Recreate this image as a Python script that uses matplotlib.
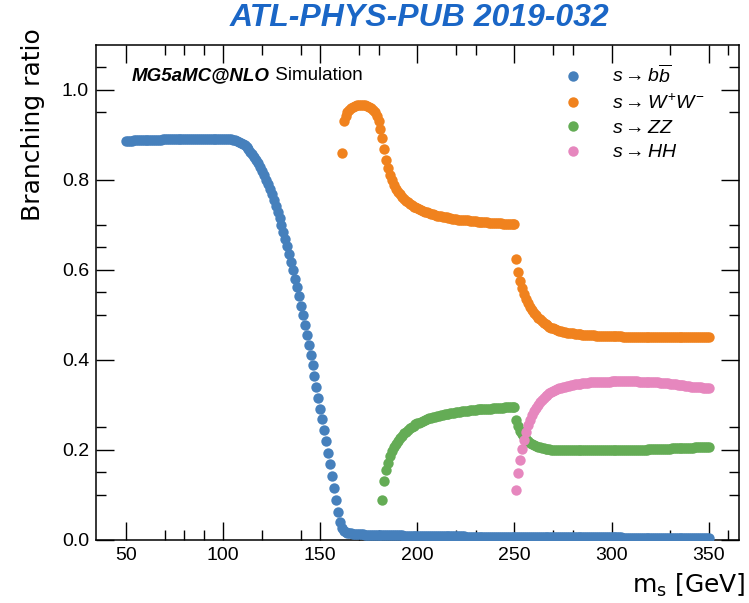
import numpy as np
import matplotlib
matplotlib.use("Agg")
import matplotlib.pyplot as plt
from matplotlib.lines import Line2D
from matplotlib.ticker import FixedLocator, FormatStrFormatter

plt.rcParams["font.family"] = ["Liberation Sans", "DejaVu Sans"]
plt.rcParams["mathtext.fontset"] = "custom"
plt.rcParams["mathtext.it"] = "Liberation Sans:italic"
plt.rcParams["mathtext.rm"] = "Liberation Sans"

# Branching ratios of the scalar s, sampled every 1 GeV in m_s.
bb_start = 50
br_bb = [
    0.887, 0.887, 0.887, 0.887, 0.888, 0.888, 0.888, 0.888, 0.888, 0.888,
    0.888, 0.888, 0.889, 0.889, 0.889, 0.889, 0.889, 0.889, 0.889, 0.890,
    0.890, 0.890, 0.890, 0.890, 0.890, 0.891, 0.891, 0.891, 0.891, 0.891,
    0.891, 0.891, 0.891, 0.892, 0.892, 0.892, 0.892, 0.892, 0.892, 0.892,
    0.892, 0.892, 0.892, 0.892, 0.892, 0.892, 0.892, 0.892, 0.892, 0.892,
    0.892, 0.892, 0.891, 0.891, 0.890, 0.889, 0.888, 0.886, 0.884, 0.882,
    0.880, 0.877, 0.873, 0.868, 0.863, 0.857, 0.851, 0.844, 0.837, 0.829,
    0.820, 0.811, 0.801, 0.791, 0.780, 0.768, 0.756, 0.743, 0.729, 0.715,
    0.700, 0.685, 0.669, 0.653, 0.636, 0.618, 0.600, 0.581, 0.562, 0.542,
    0.521, 0.500, 0.478, 0.456, 0.434, 0.411, 0.388, 0.364, 0.340, 0.316,
    0.292, 0.268, 0.244, 0.219, 0.194, 0.169, 0.143, 0.116, 0.088, 0.062,
    0.040, 0.026, 0.020, 0.017, 0.016, 0.015, 0.015, 0.014, 0.014, 0.013,
    0.013, 0.013, 0.013, 0.012, 0.012, 0.012, 0.012, 0.012, 0.011, 0.011,
    0.011, 0.011, 0.011, 0.011, 0.011, 0.010, 0.010, 0.010, 0.010, 0.010,
    0.010, 0.010, 0.010, 0.009, 0.009, 0.009, 0.009, 0.009, 0.009, 0.009,
    0.009, 0.009, 0.009, 0.009, 0.009, 0.008, 0.008, 0.008, 0.008, 0.008,
    0.008, 0.008, 0.008, 0.008, 0.008, 0.008, 0.008, 0.008, 0.008, 0.008,
    0.008, 0.008, 0.008, 0.008, 0.008, 0.007, 0.007, 0.007, 0.007, 0.007,
    0.007, 0.007, 0.007, 0.007, 0.007, 0.007, 0.007, 0.007, 0.007, 0.007,
    0.007, 0.007, 0.007, 0.007, 0.007, 0.007, 0.007, 0.007, 0.007, 0.007,
    0.007, 0.007, 0.007, 0.007, 0.007, 0.007, 0.007, 0.007, 0.007, 0.007,
    0.007, 0.007, 0.007, 0.007, 0.007, 0.006, 0.006, 0.006, 0.006, 0.006,
    0.006, 0.006, 0.006, 0.006, 0.006, 0.006, 0.006, 0.006, 0.006, 0.006,
    0.006, 0.006, 0.006, 0.006, 0.006, 0.006, 0.006, 0.006, 0.006, 0.006,
    0.006, 0.006, 0.006, 0.006, 0.006, 0.006, 0.006, 0.006, 0.006, 0.006,
    0.006, 0.006, 0.006, 0.006, 0.006, 0.006, 0.005, 0.005, 0.005, 0.005,
    0.005, 0.005, 0.005, 0.005, 0.005, 0.005, 0.005, 0.005, 0.005, 0.005,
    0.005, 0.005, 0.005, 0.005, 0.005, 0.005, 0.005, 0.005, 0.005, 0.005,
    0.005, 0.005, 0.005, 0.005, 0.005, 0.005, 0.005, 0.005, 0.005, 0.005,
    0.005, 0.005, 0.005, 0.005, 0.005, 0.005, 0.005, 0.005, 0.005, 0.005,
    0.005,
]

ww_start = 161
br_ww = [
    0.860, 0.930, 0.942, 0.950, 0.956, 0.960, 0.963, 0.965, 0.966, 0.967,
    0.967, 0.967, 0.966, 0.965, 0.963, 0.960, 0.956, 0.950, 0.942, 0.930,
    0.914, 0.893, 0.868, 0.845, 0.826, 0.811, 0.799, 0.789, 0.781, 0.774,
    0.768, 0.763, 0.758, 0.754, 0.750, 0.747, 0.744, 0.741, 0.739, 0.737,
    0.735, 0.733, 0.731, 0.729, 0.728, 0.726, 0.725, 0.724, 0.722, 0.721,
    0.720, 0.719, 0.718, 0.717, 0.717, 0.716, 0.715, 0.714, 0.714, 0.713,
    0.712, 0.712, 0.711, 0.711, 0.710, 0.710, 0.709, 0.709, 0.708, 0.708,
    0.707, 0.707, 0.707, 0.706, 0.706, 0.706, 0.705, 0.705, 0.705, 0.704,
    0.704, 0.704, 0.704, 0.703, 0.703, 0.703, 0.703, 0.702, 0.702, 0.702,
    0.624, 0.596, 0.576, 0.559, 0.546, 0.535, 0.526, 0.518, 0.511, 0.505,
    0.499, 0.494, 0.490, 0.486, 0.483, 0.480, 0.477, 0.474, 0.472, 0.470,
    0.468, 0.467, 0.465, 0.464, 0.463, 0.462, 0.461, 0.460, 0.459, 0.459,
    0.458, 0.458, 0.457, 0.457, 0.456, 0.456, 0.456, 0.455, 0.455, 0.455,
    0.455, 0.454, 0.454, 0.454, 0.454, 0.454, 0.453, 0.453, 0.453, 0.453,
    0.453, 0.453, 0.453, 0.453, 0.453, 0.452, 0.452, 0.452, 0.452, 0.452,
    0.452, 0.452, 0.452, 0.452, 0.452, 0.452, 0.452, 0.452, 0.452, 0.452,
    0.452, 0.452, 0.452, 0.452, 0.452, 0.452, 0.452, 0.452, 0.452, 0.452,
    0.452, 0.452, 0.452, 0.452, 0.452, 0.451, 0.451, 0.451, 0.451, 0.451,
    0.451, 0.451, 0.451, 0.451, 0.451, 0.451, 0.451, 0.451, 0.451, 0.451,
]

zz_start = 182
br_zz = [
    0.089, 0.130, 0.155, 0.172, 0.186, 0.197, 0.206, 0.214, 0.221, 0.227,
    0.232, 0.237, 0.241, 0.245, 0.248, 0.251, 0.254, 0.257, 0.259,
    0.261, 0.263, 0.265, 0.267, 0.268, 0.270, 0.271, 0.273, 0.274, 0.275,
    0.276, 0.277, 0.278, 0.279, 0.280, 0.281, 0.282, 0.282, 0.283, 0.284,
    0.284, 0.285, 0.286, 0.286, 0.287, 0.287, 0.288, 0.288, 0.289, 0.289,
    0.290, 0.290, 0.290, 0.291, 0.291, 0.292, 0.292, 0.292, 0.293, 0.293,
    0.293, 0.294, 0.294, 0.294, 0.295, 0.295, 0.295, 0.295, 0.296, 0.296,
    0.267, 0.253, 0.243, 0.235, 0.229, 0.224, 0.220, 0.216, 0.213, 0.211,
    0.209, 0.207, 0.206, 0.205, 0.204, 0.203, 0.202, 0.202, 0.201, 0.201,
    0.200, 0.200, 0.200, 0.200, 0.199, 0.199, 0.199, 0.199, 0.199, 0.199,
    0.199, 0.199, 0.199, 0.199, 0.199, 0.199, 0.199, 0.199, 0.199, 0.199,
    0.199, 0.199, 0.199, 0.199, 0.199, 0.199, 0.199, 0.199, 0.199, 0.199,
    0.200, 0.200, 0.200, 0.200, 0.200, 0.200, 0.200, 0.200, 0.200, 0.200,
    0.200, 0.200, 0.201, 0.201, 0.201, 0.201, 0.201, 0.201, 0.202, 0.202,
    0.202, 0.202, 0.202, 0.202, 0.203, 0.203, 0.203, 0.203, 0.203, 0.203,
    0.204, 0.204, 0.204, 0.204, 0.204, 0.204, 0.205, 0.205, 0.205, 0.205,
    0.205, 0.205, 0.206, 0.206, 0.206, 0.206, 0.206, 0.206, 0.207, 0.207,
]

hh_start = 251
br_hh = [
    0.110, 0.148, 0.178, 0.202, 0.222, 0.240, 0.255, 0.267, 0.277, 0.286,
    0.294, 0.300, 0.306, 0.311, 0.315, 0.319, 0.323, 0.326, 0.328, 0.331,
    0.333, 0.335, 0.337, 0.338, 0.339, 0.341, 0.342, 0.343, 0.344, 0.345,
    0.346, 0.346, 0.347, 0.347, 0.348, 0.348, 0.349, 0.349, 0.350, 0.350,
    0.350, 0.351, 0.351, 0.351, 0.352, 0.352, 0.352, 0.352, 0.352, 0.353,
    0.353, 0.353, 0.353, 0.353, 0.353, 0.353, 0.353, 0.353, 0.353, 0.353,
    0.353, 0.353, 0.353, 0.352, 0.352, 0.352, 0.352, 0.352, 0.351, 0.351,
    0.351, 0.350, 0.350, 0.350, 0.349, 0.349, 0.349, 0.348, 0.348, 0.347,
    0.347, 0.346, 0.346, 0.345, 0.345, 0.344, 0.344, 0.343, 0.342, 0.342,
    0.341, 0.341, 0.340, 0.340, 0.339, 0.339, 0.338, 0.338, 0.337, 0.337,
]

series = [
    (bb_start, br_bb, "#4680bc", r"$s \rightarrow b\overline{b}$"),
    (ww_start, br_ww, "#f0821e", r"$s \rightarrow W^{+}W^{-}$"),
    (zz_start, br_zz, "#64ac55", r"$s \rightarrow ZZ$"),
    (hh_start, br_hh, "#e687be", r"$s \rightarrow HH$"),
]

x_major = [50, 100, 150, 200, 250, 300, 350]
x_minor = [70, 80, 90, 120, 140, 170, 180, 220, 230, 270, 280, 330, 360]
y_major = [0.0, 0.2, 0.4, 0.6, 0.8, 1.0]
y_minor = [0.10, 0.15, 0.25, 0.50, 0.55, 0.65, 0.70, 0.95, 1.05]

fig = plt.figure(figsize=(7.49, 6.03), dpi=100)
ax = fig.add_axes([0.1282, 0.1045, 0.9871 - 0.1282, 0.9254 - 0.1045])

handles = []
for start, values, color, label in series:
    mass = start + np.arange(len(values))
    ax.scatter(mass, values, s=56, color=color, linewidths=0, zorder=3)
    handles.append(Line2D([], [], linestyle="none", marker="o",
                          markersize=7.5, markerfacecolor=color,
                          markeredgewidth=0, label=label))

ax.set_xlim(34.5, 365.8)
ax.set_ylim(0, 1.1)
ax.xaxis.set_major_locator(FixedLocator(x_major))
ax.xaxis.set_minor_locator(FixedLocator(x_minor))
ax.yaxis.set_major_locator(FixedLocator(y_major))
ax.yaxis.set_minor_locator(FixedLocator(y_minor))
ax.yaxis.set_major_formatter(FormatStrFormatter("%.1f"))
ax.tick_params(which="both", direction="in", top=True, right=True,
               width=1.0, labelsize=14, pad=5, colors="black")
ax.tick_params(which="major", length=13)
ax.tick_params(which="minor", length=7)
for sp in ax.spines.values():
    sp.set_linewidth(1.1)

ax.legend(handles=handles, loc="upper left", bbox_to_anchor=(0.7264, 0.962),
          frameon=False, fontsize=14, handlelength=1.0, handletextpad=1.5,
          labelspacing=0.35, borderpad=0, borderaxespad=0)

tag = ax.text(0.0555, 0.938, "MG5aMC@NLO", transform=ax.transAxes,
              fontsize=13.5, fontweight="bold", fontstyle="italic",
              ha="left", va="center")
ax.annotate(" Simulation", xy=(1, 0.5), xycoords=tag, fontsize=13.5,
            ha="left", va="center")

fig.text(0.5594, 0.970, "ATL-PHYS-PUB 2019-032", color="#1a66c6",
         fontsize=23, fontweight="bold", fontstyle="italic",
         ha="center", va="center")
fig.text(0.044, 0.7935, "Branching ratio", rotation=90, fontsize=18,
         family="DejaVu Sans", ha="center", va="center")
fig.text(0.995, 0.029, r"m$_\mathregular{s}$ [GeV]", fontsize=18,
         family="DejaVu Sans", ha="right", va="center")

fig.savefig("out.png", dpi=100)
